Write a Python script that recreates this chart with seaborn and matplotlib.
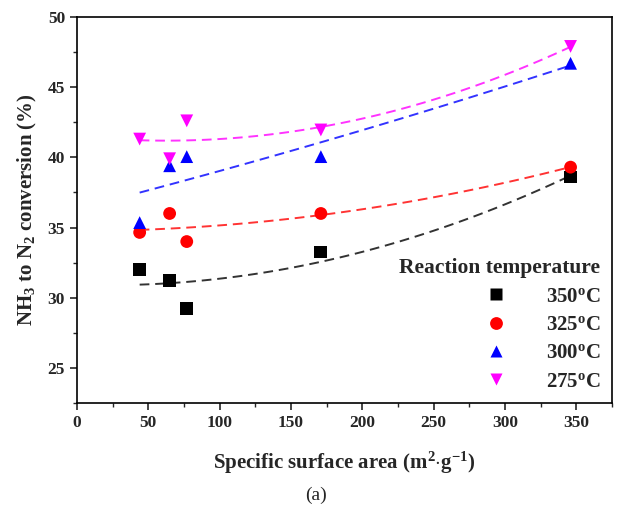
import seaborn as sns
import matplotlib.pyplot as plt
import pandas as pd
from matplotlib.ticker import MultipleLocator

# Data
area = [44, 65, 77, 171, 346]
conv_350 = [32.0, 31.25, 29.25, 33.25, 38.6]
conv_325 = [34.65, 36.0, 34.0, 36.0, 39.3]
conv_300 = [35.35, 39.4, 40.05, 40.05, 46.7]
conv_275 = [41.3, 39.9, 42.6, 41.95, 47.9]

temps = ["350$^\\mathrm{o}$C", "325$^\\mathrm{o}$C", "300$^\\mathrm{o}$C", "275$^\\mathrm{o}$C"]
series = [conv_350, conv_325, conv_300, conv_275]
colors = ["black", "red", "blue", "magenta"]
markers = ["s", "o", "^", "v"]

df = pd.DataFrame({
    "area": area * 4,
    "conv": sum(series, []),
    "temp": [t for t in temps for _ in area],
})

sns.set_theme(style="ticks")
plt.rcParams["font.family"] = ["Liberation Serif", "DejaVu Serif"]
plt.rcParams["font.weight"] = "bold"
plt.rcParams["mathtext.fontset"] = "custom"
plt.rcParams["mathtext.rm"] = "Liberation Serif:bold"
plt.rcParams["mathtext.default"] = "rm"

fig = plt.figure(figsize=(6.2, 5.14), dpi=100)
ax = fig.add_axes([0.124, 0.216, 0.863, 0.751])

# Quadratic fits, dashed
for t, c in zip(temps, colors):
    sub = df[df["temp"] == t]
    sns.regplot(x="area", y="conv", data=sub, order=2, ci=None, scatter=False,
                ax=ax, line_kws=dict(color=c, ls=(0, (5, 3)), lw=1.4, alpha=0.8))

sns.scatterplot(x="area", y="conv", data=df, hue="temp", style="temp",
                palette=dict(zip(temps, colors)), markers=dict(zip(temps, markers)),
                s=85, edgecolor="none", ax=ax, zorder=3)

ax.set_xlim(0, 375)
ax.set_ylim(22.5, 50)
ax.xaxis.set_major_locator(MultipleLocator(50))
ax.xaxis.set_minor_locator(MultipleLocator(25))
ax.yaxis.set_major_locator(MultipleLocator(5))
ax.yaxis.set_minor_locator(MultipleLocator(2.5))
ax.set_yticks([25, 30, 35, 40, 45, 50])
ax.tick_params(which="major", direction="out", length=5, width=1.2, labelsize=12.5)
ax.tick_params(which="minor", direction="out", length=3, width=1.0)
for lbl in ax.get_xticklabels() + ax.get_yticklabels():
    lbl.set_fontweight("bold")
for sp in ax.spines.values():
    sp.set_linewidth(1.2)
    sp.set_color("black")

ax.set_xlabel("Specific surface area (m$^2$$\\cdot$g$^{-1}$)", fontsize=15, fontweight="bold", labelpad=14)
ax.set_ylabel("NH$_3$ to N$_2$ conversion (%)", fontsize=15, fontweight="bold", labelpad=6)

leg = ax.legend(title="Reaction temperature", loc="lower right", frameon=False,
                fontsize=15, title_fontproperties={"weight": "bold", "size": 15.5},
                alignment="right", handletextpad=1.4, labelspacing=0.4,
                markerscale=1.0, borderaxespad=0.15)

fig.text(0.51, 1 - 495 / 514, "(a)", ha="center", va="center", fontsize=14, fontweight="normal")

fig.savefig("out.png", dpi=100)
